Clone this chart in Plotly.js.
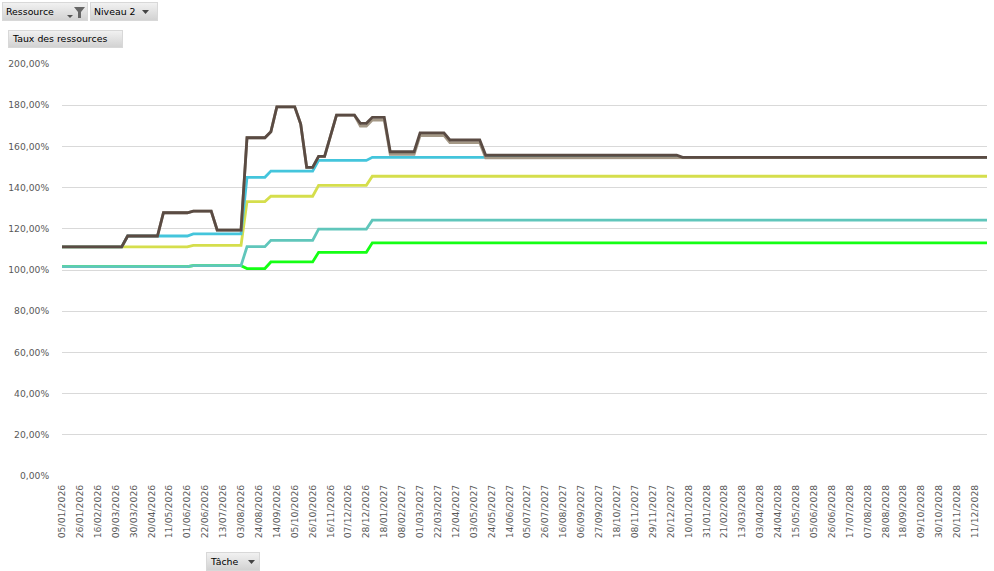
<!DOCTYPE html>
<html>
<head>
<meta charset="utf-8">
<script src="https://cdn.plot.ly/plotly-3.0.1.min.js"></script>
<style>
  html, body { margin:0; padding:0; background:#fff; }
  #wrap { position:relative; width:994px; height:571px; overflow:hidden; }
  #chart { position:absolute; left:0; top:0; width:994px; height:571px; }
  .btn { position:absolute; box-sizing:border-box; height:19px;
         background:linear-gradient(#f1f1f1, #d2d2d2);
         border:1px solid #d8d8d8; font-family:"DejaVu Sans", sans-serif;
         font-size:9.4px; color:#000; line-height:17px; white-space:nowrap; }
  .btn span { position:absolute; top:0; }
  .btn svg { position:absolute; }
</style>
</head>
<body>
<div id="wrap">
  <div id="chart"></div>
  <div class="btn" style="left:2px;top:2px;width:86px;">
    <span style="left:3px;">Ressource</span>
    <svg style="left:62px;top:3px" width="22" height="13" viewBox="0 0 22 13">
      <polygon points="2,9 8,9 5,12" fill="#555"/>
      <polygon points="9,1 20,1 16,6 16,12 13,12 13,6" fill="#666"/>
    </svg>
  </div>
  <div class="btn" style="left:90px;top:2px;width:68px;">
    <span style="left:3px;">Niveau 2</span>
    <svg style="left:51px;top:7px" width="8" height="5" viewBox="0 0 8 5">
      <polygon points="0,0 7,0 3.5,4" fill="#444"/>
    </svg>
  </div>
  <div class="btn" style="left:8px;top:30px;width:115px;height:18px;line-height:16px;">
    <span style="left:4px;">Taux des ressources</span>
  </div>
  <div class="btn" style="left:206px;top:552px;width:54px;">
    <span style="left:4px;">Tâche</span>
    <svg style="left:41px;top:7px" width="8" height="5" viewBox="0 0 8 5">
      <polygon points="0,0 7,0 3.5,4" fill="#444"/>
    </svg>
  </div>
</div>
<script>
// Weekly categories (Tâche)
const categories = [
"05/01/2026","12/01/2026","19/01/2026","26/01/2026","02/02/2026","09/02/2026","16/02/2026","23/02/2026",
"02/03/2026","09/03/2026","16/03/2026","23/03/2026","30/03/2026","06/04/2026","13/04/2026","20/04/2026",
"27/04/2026","04/05/2026","11/05/2026","18/05/2026","25/05/2026","01/06/2026","08/06/2026","15/06/2026",
"22/06/2026","29/06/2026","06/07/2026","13/07/2026","20/07/2026","27/07/2026","03/08/2026","10/08/2026",
"17/08/2026","24/08/2026","31/08/2026","07/09/2026","14/09/2026","21/09/2026","28/09/2026","05/10/2026",
"12/10/2026","19/10/2026","26/10/2026","02/11/2026","09/11/2026","16/11/2026","23/11/2026","30/11/2026",
"07/12/2026","14/12/2026","21/12/2026","28/12/2026",
"04/01/2027","11/01/2027","18/01/2027","25/01/2027","01/02/2027","08/02/2027","15/02/2027","22/02/2027",
"01/03/2027","08/03/2027","15/03/2027","22/03/2027","29/03/2027","05/04/2027","12/04/2027","19/04/2027",
"26/04/2027","03/05/2027","10/05/2027","17/05/2027","24/05/2027","31/05/2027","07/06/2027","14/06/2027",
"21/06/2027","28/06/2027","05/07/2027","12/07/2027","19/07/2027","26/07/2027","02/08/2027","09/08/2027",
"16/08/2027","23/08/2027","30/08/2027","06/09/2027","13/09/2027","20/09/2027","27/09/2027","04/10/2027",
"11/10/2027","18/10/2027","25/10/2027","01/11/2027","08/11/2027","15/11/2027","22/11/2027","29/11/2027",
"06/12/2027","13/12/2027","20/12/2027","27/12/2027",
"03/01/2028","10/01/2028","17/01/2028","24/01/2028","31/01/2028","07/02/2028","14/02/2028","21/02/2028",
"28/02/2028","06/03/2028","13/03/2028","20/03/2028","27/03/2028","03/04/2028","10/04/2028","17/04/2028",
"24/04/2028","01/05/2028","08/05/2028","15/05/2028","22/05/2028","29/05/2028","05/06/2028","12/06/2028",
"19/06/2028","26/06/2028","03/07/2028","10/07/2028","17/07/2028","24/07/2028","31/07/2028","07/08/2028",
"14/08/2028","21/08/2028","28/08/2028","04/09/2028","11/09/2028","18/09/2028","25/09/2028","02/10/2028",
"09/10/2028","16/10/2028","23/10/2028","30/10/2028","06/11/2028","13/11/2028","20/11/2028","27/11/2028",
"04/12/2028","11/12/2028","18/12/2028","25/12/2028"
];

const seriesGreen = [
101.6,101.6,101.6,101.6,101.6,101.6,101.6,101.6,101.6,101.6,101.6,
101.6,101.6,101.6,101.6,101.6,101.6,101.6,101.6,101.6,101.6,101.6,
102.1,102.1,102.1,102.1,102.1,102.1,102.1,102.1,102.1,
100.7,100.7,100.7,100.7,
103.9,103.9,103.9,103.9,103.9,103.9,103.9,103.9,
108.6,108.6,108.6,108.6,108.6,108.6,108.6,108.6,108.6,
113.2,113.2,113.2,113.2,113.2,113.2,113.2,113.2,113.2,113.2,113.2,113.2,113.2,
113.2,113.2,113.2,113.2,113.2,113.2,113.2,113.2,113.2,113.2,113.2,113.2,113.2,
113.2,113.2,113.2,113.2,113.2,113.2,113.2,113.2,113.2,113.2,113.2,113.2,113.2,
113.2,113.2,113.2,113.2,113.2,113.2,113.2,113.2,113.2,113.2,113.2,113.2,113.2,
113.2,113.2,113.2,113.2,113.2,113.2,113.2,113.2,113.2,113.2,113.2,113.2,113.2,
113.2,113.2,113.2,113.2,113.2,113.2,113.2,113.2,113.2,113.2,113.2,113.2,113.2,
113.2,113.2,113.2,113.2,113.2,113.2,113.2,113.2,113.2,113.2,113.2,113.2,113.2,
113.2,113.2,113.2,113.2,113.2,113.2,113.2,113.2,113.2,113.2,113.2,113.2,113.2
];

const seriesTeal = [
101.6,101.6,101.6,101.6,101.6,101.6,101.6,101.6,101.6,101.6,101.6,
101.6,101.6,101.6,101.6,101.6,101.6,101.6,101.6,101.6,101.6,101.6,
102.1,102.1,102.1,102.1,102.1,102.1,102.1,102.1,102.1,
111.3,111.3,111.3,111.3,
114.4,114.4,114.4,114.4,114.4,114.4,114.4,114.4,
119.8,119.8,119.8,119.8,119.8,119.8,119.8,119.8,119.8,
124.2,124.2,124.2,124.2,124.2,124.2,124.2,124.2,124.2,124.2,124.2,124.2,124.2,
124.2,124.2,124.2,124.2,124.2,124.2,124.2,124.2,124.2,124.2,124.2,124.2,124.2,
124.2,124.2,124.2,124.2,124.2,124.2,124.2,124.2,124.2,124.2,124.2,124.2,124.2,
124.2,124.2,124.2,124.2,124.2,124.2,124.2,124.2,124.2,124.2,124.2,124.2,124.2,
124.2,124.2,124.2,124.2,124.2,124.2,124.2,124.2,124.2,124.2,124.2,124.2,124.2,
124.2,124.2,124.2,124.2,124.2,124.2,124.2,124.2,124.2,124.2,124.2,124.2,124.2,
124.2,124.2,124.2,124.2,124.2,124.2,124.2,124.2,124.2,124.2,124.2,124.2,124.2,
124.2,124.2,124.2,124.2,124.2,124.2,124.2,124.2,124.2,124.2,124.2,124.2,124.2
];

const seriesYellow = [
111.2,111.2,111.2,111.2,111.2,111.2,111.2,111.2,111.2,111.2,111.2,
111.2,111.2,111.2,111.2,111.2,111.2,111.2,111.2,111.2,111.2,111.2,
112.0,112.0,112.0,112.0,112.0,112.0,112.0,112.0,112.0,
133.2,133.2,133.2,133.2,
135.8,135.8,135.8,135.8,135.8,135.8,135.8,135.8,
141.1,141.1,141.1,141.1,141.1,141.1,141.1,141.1,141.1,
145.5,145.5,145.5,145.5,145.5,145.5,145.5,145.5,145.5,145.5,145.5,145.5,145.5,
145.5,145.5,145.5,145.5,145.5,145.5,145.5,145.5,145.5,145.5,145.5,145.5,145.5,
145.5,145.5,145.5,145.5,145.5,145.5,145.5,145.5,145.5,145.5,145.5,145.5,145.5,
145.5,145.5,145.5,145.5,145.5,145.5,145.5,145.5,145.5,145.5,145.5,145.5,145.5,
145.5,145.5,145.5,145.5,145.5,145.5,145.5,145.5,145.5,145.5,145.5,145.5,145.5,
145.5,145.5,145.5,145.5,145.5,145.5,145.5,145.5,145.5,145.5,145.5,145.5,145.5,
145.5,145.5,145.5,145.5,145.5,145.5,145.5,145.5,145.5,145.5,145.5,145.5,145.5,
145.5,145.5,145.5,145.5,145.5,145.5,145.5,145.5,145.5,145.5,145.5,145.5,145.5
];

const seriesCyan = [
111.2,111.2,111.2,111.2,111.2,111.2,111.2,111.2,111.2,111.2,111.2,
116.5,116.5,116.5,116.5,116.5,116.5,116.5,116.5,116.5,116.5,116.5,
117.5,117.5,117.5,117.5,117.5,117.5,117.5,117.5,117.5,
145.0,145.0,145.0,145.0,
148.0,148.0,148.0,148.0,148.0,148.0,148.0,148.0,
153.2,153.2,153.2,153.2,153.2,153.2,153.2,153.2,153.2,
154.7,154.7,154.7,154.7,154.7,154.7,154.7,154.7,154.7,154.7,154.7,154.7,154.7,
154.7,154.7,154.7,154.7,154.7,154.7,154.7,154.7,154.7,154.7,154.7,154.7,154.7,
154.7,154.7,154.7,154.7,154.7,154.7,154.7,154.7,154.7,154.7,154.7,154.7,154.7,
154.7,154.7,154.7,154.7,154.7,154.7,154.7,154.7,154.7,154.7,154.7,154.7,154.7,
154.7,154.7,154.7,154.7,154.7,154.7,154.7,154.7,154.7,154.7,154.7,154.7,154.7,
154.7,154.7,154.7,154.7,154.7,154.7,154.7,154.7,154.7,154.7,154.7,154.7,154.7,
154.7,154.7,154.7,154.7,154.7,154.7,154.7,154.7,154.7,154.7,154.7,154.7,154.7,
154.7,154.7,154.7,154.7,154.7,154.7,154.7,154.7,154.7,154.7,154.7,154.7,154.7
];

const seriesTan = [
111.2,111.2,111.2,111.2,111.2,111.2,111.2,111.2,111.2,111.2,111.2,
116.5,116.5,116.5,116.5,116.5,116.5,
127.8,127.8,127.8,127.8,127.8,
128.6,128.6,128.6,128.6,
119.4,119.4,119.4,119.4,119.4,
164.2,164.2,164.2,164.2,
167.1,
179.2,179.2,179.2,179.2,
170.8,
149.8,149.8,
155.2,155.2,
165.2,
175.2,175.2,175.2,175.2,
169.9,169.9,
172.8,172.8,172.8,
156.1,156.1,156.1,156.1,156.1,
165.3,165.3,165.3,165.3,165.3,
161.8,161.8,161.8,161.8,161.8,161.8,
154.4,154.4,154.4,154.4,154.4,154.4,154.4,154.4,154.4,154.4,154.4,154.4,154.4,
154.4,154.4,154.4,154.4,154.4,154.4,154.4,154.4,154.4,154.4,154.4,154.4,154.4,
154.4,154.4,154.4,154.4,154.4,154.4,154.4,
154.7,154.7,154.7,154.7,154.7,154.7,154.7,154.7,154.7,154.7,154.7,154.7,154.7,
154.7,154.7,154.7,154.7,154.7,154.7,154.7,154.7,154.7,154.7,154.7,154.7,154.7,
154.7,154.7,154.7,154.7,154.7,154.7,154.7,154.7,154.7,154.7,154.7,154.7,154.7,
154.7,154.7,154.7,154.7,154.7,154.7,154.7,154.7,154.7,154.7,154.7,154.7,154.7
];

const seriesBrown = [
111.2,111.2,111.2,111.2,111.2,111.2,111.2,111.2,111.2,111.2,111.2,
116.5,116.5,116.5,116.5,116.5,116.5,
127.8,127.8,127.8,127.8,127.8,
128.6,128.6,128.6,128.6,
119.4,119.4,119.4,119.4,119.4,
164.2,164.2,164.2,164.2,
167.1,
179.2,179.2,179.2,179.2,
170.8,
149.8,149.8,
155.2,155.2,
165.2,
175.2,175.2,175.2,175.2,
171.2,171.2,
174.1,174.1,174.1,
157.4,157.4,157.4,157.4,157.4,
166.6,166.6,166.6,166.6,166.6,
163.1,163.1,163.1,163.1,163.1,163.1,
155.7,155.7,155.7,155.7,155.7,155.7,155.7,155.7,155.7,155.7,155.7,155.7,155.7,
155.7,155.7,155.7,155.7,155.7,155.7,155.7,155.7,155.7,155.7,155.7,155.7,155.7,
155.7,155.7,155.7,155.7,155.7,155.7,155.7,
154.7,154.7,154.7,154.7,154.7,154.7,154.7,154.7,154.7,154.7,154.7,154.7,154.7,
154.7,154.7,154.7,154.7,154.7,154.7,154.7,154.7,154.7,154.7,154.7,154.7,154.7,
154.7,154.7,154.7,154.7,154.7,154.7,154.7,154.7,154.7,154.7,154.7,154.7,154.7,
154.7,154.7,154.7,154.7,154.7,154.7,154.7,154.7,154.7,154.7,154.7,154.7,154.7
];

const seriesList = [
  {y: seriesGreen,  color: '#14FF14'},
  {y: seriesTeal,   color: '#60C6BB'},
  {y: seriesYellow, color: '#D5DE4C'},
  {y: seriesCyan,   color: '#44C5DC'},
  {y: seriesTan,    color: '#A49886'},
  {y: seriesBrown,  color: '#5A4B43'}
];

seriesList.forEach(function(s, i){
  if (s.y.length !== categories.length) {
    throw new Error('series ' + i + ' length ' + s.y.length + ' != ' + categories.length);
  }
});

const traces = seriesList.map(function(s){
  return {
    type: 'scatter', mode: 'lines',
    x: categories, y: s.y,
    line: {color: s.color, width: 2.8, shape: 'linear'},
    hoverinfo: 'skip'
  };
});

const layout = {
  width: 994, height: 571,
  margin: {l: 62, r: 7, t: 64, b: 95, pad: 0},
  paper_bgcolor: '#ffffff', plot_bgcolor: '#ffffff',
  showlegend: false,
  separators: ', ',
  font: {family: 'DejaVu Sans, sans-serif', size: 9.2, color: '#595959'},
  xaxis: {
    type: 'category',
    range: [0, categories.length - 1],
    tickmode: 'linear', tick0: 0, dtick: 3,
    tickangle: -90,
    ticks: 'outside', ticklen: 4, tickcolor: 'rgba(0,0,0,0)',
    showgrid: false, zeroline: false, showline: false,
    tickfont: {family: 'DejaVu Sans, sans-serif', size: 9.3, color: '#595959'}
  },
  yaxis: {
    range: [0, 200],
    tickmode: 'linear', tick0: 0, dtick: 20,
    tickformat: '.2f', ticksuffix: '%',
    ticks: 'outside', ticklen: 10, tickcolor: 'rgba(0,0,0,0)',
    showgrid: true, gridcolor: '#D9D9D9', gridwidth: 1,
    zeroline: false, showline: false,
    tickfont: {family: 'DejaVu Sans, sans-serif', size: 9.2, color: '#595959'}
  },
  hovermode: false
};

Plotly.newPlot('chart', traces, layout, {displayModeBar: false, staticPlot: true});
</script>
</body>
</html>
